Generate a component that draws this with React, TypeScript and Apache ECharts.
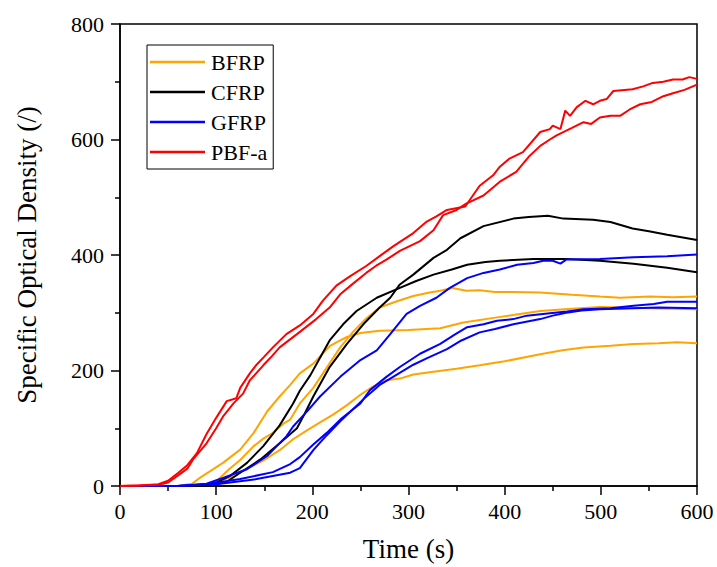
import React, { useEffect, useRef } from "react";
import * as echarts from "echarts";

const legendNames = ["BFRP", "CFRP", "GFRP", "PBF-a"];
const xTicks = [0, 100, 200, 300, 400, 500, 600];
const yTicks = [0, 200, 400, 600, 800];

// BFRP (orange)
const bfrpA: number[][] = [[0,0],[60,0],[90,3],[100,8],[114,30],[125,45],[139,69],[149,82],[159,92],[170,108],[177,115],[187,143],[201,170],[215,205],[229,240],[243,268],[256,290],[270,309],[288,320],[305,329],[322,335],[333,338],[346,343],[360,338],[374,339],[390,336],[409,336],[437,335],[470,331],[499,328],[520,326],[551,328],[575,327],[600,328]];
const bfrpB: number[][] = [[0,0],[60,0],[75,4],[83,14],[95,27],[107,40],[125,63],[139,92],[153,129],[166,155],[177,175],[187,195],[201,212],[210,228],[218,242],[229,252],[236,258],[250,265],[270,269],[300,270],[333,273],[357,283],[392,292],[437,303],[470,307],[499,310],[525,309],[551,308],[575,307],[600,306]];
const bfrpC: number[][] = [[0,0],[80,0],[100,6],[115,15],[132,30],[150,45],[166,62],[180,81],[194,96],[208,110],[222,124],[236,140],[250,158],[263,172],[277,183],[291,186],[305,193],[322,197],[350,203],[374,209],[400,216],[437,228],[460,235],[482,240],[510,243],[534,246],[560,247],[579,249],[600,247]];

// CFRP (black)
const cfrpA: number[][] = [[0,0],[85,0],[110,6],[125,23],[146,46],[166,74],[184,100],[192,125],[201,155],[218,206],[236,246],[253,280],[270,309],[281,326],[291,349],[305,366],[326,395],[340,409],[354,429],[378,450],[409,463],[425,466],[445,468],[461,463],[492,461],[510,457],[533,446],[550,441],[569,435],[600,426]];
const cfrpB: number[][] = [[0,0],[80,0],[100,6],[114,17],[132,40],[149,69],[166,105],[180,143],[187,165],[198,192],[208,222],[218,252],[232,280],[246,303],[267,326],[291,343],[308,355],[326,366],[345,375],[361,383],[380,388],[395,390],[430,393],[464,393],[499,390],[534,385],[569,378],[600,370]];

// GFRP (blue)
const gfrpA: number[][] = [[0,0],[60,0],[90,4],[107,14],[132,29],[153,52],[163,69],[173,86],[180,103],[195,130],[208,155],[229,189],[250,218],[267,235],[281,263],[298,298],[312,312],[329,326],[343,343],[361,360],[378,369],[395,375],[413,383],[430,386],[440,390],[450,390],[458,385],[464,392],[499,393],[534,396],[569,398],[600,401]];
const gfrpB: number[][] = [[0,0],[60,0],[90,3],[125,12],[159,24],[177,38],[187,50],[201,72],[215,92],[229,115],[250,143],[260,166],[277,189],[291,206],[312,229],[333,246],[348,262],[361,275],[378,280],[392,286],[409,289],[423,295],[447,299],[465,302],[482,306],[510,308],[534,312],[555,315],[569,319],[600,319]];
const gfrpC: number[][] = [[0,0],[60,0],[100,3],[142,12],[177,23],[187,31],[201,62],[215,88],[229,112],[253,150],[270,175],[281,186],[305,210],[320,222],[340,237],[355,252],[374,266],[390,272],[409,280],[437,289],[450,295],[464,300],[480,304],[499,306],[534,308],[560,309],[600,308]];

// PBF-a (red)
const pbfA: number[][] = [[0,0],[20,1],[40,3],[50,9],[60,22],[70,36],[80,57],[90,90],[100,118],[111,147],[121,152],[125,170],[135,195],[142,210],[150,224],[159,240],[173,263],[187,278],[201,298],[211,321],[225,347],[239,363],[256,381],[270,398],[284,415],[305,438],[319,458],[329,467],[340,478],[359,484],[374,520],[388,538],[395,553],[405,567],[419,578],[437,613],[447,618],[450,624],[458,618],[463,650],[468,641],[475,656],[484,667],[492,661],[499,667],[506,670],[513,684],[533,687],[544,692],[554,698],[565,700],[575,704],[585,704],[592,708],[600,705]];
const pbfB: number[][] = [[0,0],[20,1],[40,2],[50,6],[60,18],[70,30],[76,46],[90,74],[100,100],[107,120],[118,143],[128,160],[135,183],[149,209],[158,225],[166,240],[184,263],[194,276],[204,289],[218,309],[229,332],[242,350],[256,369],[266,381],[277,392],[291,407],[312,424],[326,443],[336,469],[350,478],[360,489],[378,503],[395,527],[412,544],[425,570],[437,589],[447,600],[454,607],[470,620],[482,630],[490,627],[499,638],[510,641],[520,641],[530,652],[541,661],[553,665],[565,675],[575,680],[587,686],[600,695]];

const FONT = "'Liberation Serif', 'Times New Roman', serif";

const curves: { name: string; color: string; data: number[][] }[] = [
  { name: "BFRP", color: "#FFA500", data: bfrpA },
  { name: "BFRP", color: "#FFA500", data: bfrpB },
  { name: "BFRP", color: "#FFA500", data: bfrpC },
  { name: "CFRP", color: "#000000", data: cfrpA },
  { name: "CFRP", color: "#000000", data: cfrpB },
  { name: "GFRP", color: "#0000FF", data: gfrpA },
  { name: "GFRP", color: "#0000FF", data: gfrpB },
  { name: "GFRP", color: "#0000FF", data: gfrpC },
  { name: "PBF-a", color: "#FF0000", data: pbfA },
  { name: "PBF-a", color: "#FF0000", data: pbfB },
];

export default function App() {
  const ref = useRef<HTMLDivElement>(null);
  useEffect(() => {
    if (!ref.current) return;
    const chart = echarts.init(ref.current, null, { renderer: "svg" });
    const axisCommon = {
      axisLine: { lineStyle: { color: "#000", width: 1.5 } },
      axisTick: { show: true, length: 9, lineStyle: { color: "#000", width: 1.5 } },
      minorTick: { show: true, splitNumber: 2, length: 5, lineStyle: { color: "#000", width: 1.5 } },
      splitLine: { show: false },
      axisLabel: { color: "#000", fontFamily: FONT, fontSize: 22 },
      nameTextStyle: { color: "#000", fontFamily: FONT, fontSize: 27 },
    };
    chart.setOption({
      animation: false,
      backgroundColor: "#fff",
      grid: {
        left: 120, right: 20, top: 24, bottom: 78,
        show: true, borderColor: "#000", borderWidth: 1.5, containLabel: false,
      },
      legend: {
        data: legendNames,
        orient: "vertical",
        left: 147,
        top: 45,
        borderColor: "#000",
        borderWidth: 1,
        padding: [6, 6, 6, 3],
        itemGap: 8,
        itemWidth: 55,
        itemHeight: 2.5,
        icon: "rect",
        textStyle: { color: "#000", fontFamily: FONT, fontSize: 22, padding: [0, 0, 0, 1] },
      },
      xAxis: {
        type: "value",
        min: xTicks[0],
        max: xTicks[xTicks.length - 1],
        interval: 100,
        name: "Time (s)",
        nameLocation: "middle",
        nameGap: 49,
        ...axisCommon,
        axisLabel: { ...axisCommon.axisLabel, margin: 14 },
      },
      yAxis: {
        type: "value",
        min: yTicks[0],
        max: yTicks[yTicks.length - 1],
        interval: 200,
        name: "Specific Optical Density (/)",
        nameLocation: "middle",
        nameGap: 80,
        ...axisCommon,
        axisLabel: { ...axisCommon.axisLabel, margin: 16 },
      },
      series: curves.map((c) => ({
        type: "line",
        name: c.name,
        data: c.data,
        showSymbol: false,
        symbol: "none",
        lineStyle: { color: c.color, width: 2 },
        itemStyle: { color: c.color },
        emphasis: { disabled: true },
      })),
    });
    return () => chart.dispose();
  }, []);
  return <div ref={ref} style={{ width: 717, height: 567, position: "absolute", left: 0, top: 0 }} />;
}
